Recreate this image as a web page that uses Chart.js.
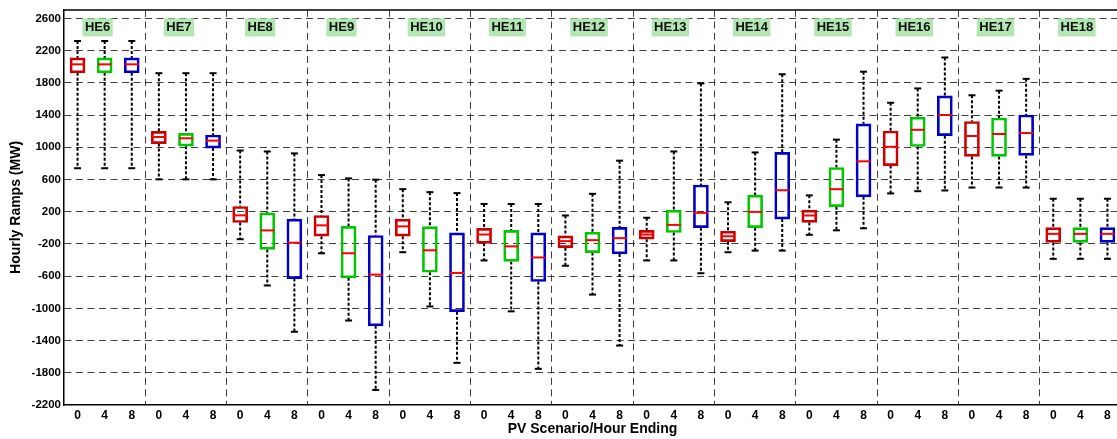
<!DOCTYPE html>
<html>
<head>
<meta charset="utf-8">
<script src="https://cdn.jsdelivr.net/npm/chart.js@4"></script>
<style>
  html, body { margin: 0; padding: 0; background: #fff; overflow: hidden; }
  #wrap { width: 1130px; height: 439px; }
</style>
</head>
<body>
<div id="wrap"><canvas id="ramps" width="1130" height="439"></canvas></div>
<script>
// Группы (час окончания) и сценарии PV
const groups = ['HE6', 'HE7', 'HE8', 'HE9', 'HE10', 'HE11', 'HE12', 'HE13', 'HE14', 'HE15', 'HE16', 'HE17', 'HE18'];
const scenarios = ['0', '4', '8'];
const yTicks = [-2200, -1800, -1400, -1000, -600, -200, 200, 600, 1000, 1400, 1800, 2200, 2600];

// Значения ящиков: по три на группу (0, 4, 8)
const whiskerHigh = [2320, 2320, 2320, 1920, 1920, 1920, 960, 948, 924, 655, 614, 598, 480, 443, 431,
  296, 296, 296, 153, 422, 834, 125, 948, 1793, 317, 936, 1907, 403, 1095, 1939,
  1553, 1731, 2115, 1646, 1703, 1850, 361, 361, 361];
const q3 = [2110, 2110, 2110, 1198, 1173, 1153, 265, 186, 109, 153, 18, -95, 109, 15, -62,
  -6, -31, -62, -99, -55, 6, -31, 219, 532, -43, 406, 936, 219, 749, 1291,
  1202, 1373, 1638, 1320, 1364, 1401, 2, 2, 2];
const median = [2030, 2030, 2030, 1128, 1112, 1083, 155, -32, -185, 31, -316, -581, 18, -279, -560,
  -83, -230, -368, -165, -153, -128, -83, 36, 186, -104, 198, 467, 153, 480, 826,
  1006, 1217, 1401, 1140, 1165, 1177, -75, -75, -75];
const q1 = [1925, 1925, 1925, 1046, 1014, 990, 66, -268, -630, -104, -621, -1217, -104, -552, -1041,
  -193, -417, -667, -246, -307, -324, -141, -58, 2, -172, 2, 109, 67, 263, 385,
  773, 1010, 1144, 887, 887, 899, -181, -181, -181];
const whiskerLow = [740, 740, 740, 602, 602, 602, -141, -716, -1291, -316, -1151, -2013, -303, -976, -1677,
  -405, -1037, -1751, -471, -829, -1462, -405, -405, -564, -303, -283, -283, -87, -31, -6,
  427, 455, 464, 500, 500, 500, -385, -385, -385];

const boxColors = ['rgb(204,0,0)', 'rgb(0,200,0)', 'rgb(0,0,204)'];
const gridColor = 'rgba(0,0,0,0.75)';
const fontFamily = '"Liberation Sans", Arial, sans-serif';

// Собираем точки для наборов данных
const boxData = [], medData = [], capData = [], whiskerData = [];
for (let i = 0; i < median.length; i++) {
  boxData.push({ x: i, y: [q1[i], q3[i]] });
  medData.push({ x: i, y: median[i] });
  capData.push({ x: i, y: whiskerHigh[i] }, { x: i, y: whiskerLow[i] });
  whiskerData.push(
    { x: i, y: whiskerHigh[i] }, { x: i, y: q3[i] }, { x: i, y: null },
    { x: i, y: q1[i] }, { x: i, y: whiskerLow[i] }, { x: i, y: null }
  );
}

// Подписи групп и верхняя рамка
const groupLabels = {
  id: 'groupLabels',
  afterDatasetsDraw(chart) {
    const ctx = chart.ctx;
    const area = chart.chartArea;
    const x = chart.scales.x;
    ctx.save();
    ctx.strokeStyle = '#000';
    ctx.lineWidth = 1.5;
    ctx.beginPath();
    ctx.moveTo(area.left, area.top);
    ctx.lineTo(area.right, area.top);
    ctx.stroke();
    ctx.font = 'bold 13px ' + fontFamily;
    ctx.textAlign = 'left';
    ctx.textBaseline = 'middle';
    groups.forEach((g, k) => {
      const left = x.getPixelForValue(k * 3 - 0.5 + 0.68);
      const w = ctx.measureText(g).width + 5;
      const cy = area.top + 17.5;
      ctx.fillStyle = 'rgb(180,230,180)';
      ctx.fillRect(left, cy - 9, w, 18);
      ctx.fillStyle = '#111';
      ctx.fillText(g, left + 2.5, cy + 0.5);
    });
    ctx.restore();
  }
};

const config = {
  data: {
    datasets: [
      {
        type: 'line',
        data: whiskerData,
        borderColor: '#000',
        borderWidth: 2,
        borderDash: [3, 2],
        pointRadius: 0,
        spanGaps: false,
        order: 3
      },
      {
        type: 'bar',
        data: boxData,
        backgroundColor: 'rgba(0,0,0,0)',
        borderColor: boxData.map((d, i) => boxColors[i % 3]),
        borderWidth: 2,
        borderSkipped: false,
        barThickness: 15,
        order: 2
      },
      {
        type: 'line',
        data: capData,
        showLine: false,
        pointStyle: 'line',
        pointRadius: 3.5,
        pointBorderWidth: 2,
        pointBorderColor: '#000',
        order: 1
      },
      {
        type: 'line',
        data: medData,
        showLine: false,
        pointStyle: 'line',
        pointRadius: 7,
        pointBorderWidth: 2,
        pointBorderColor: 'rgb(255,0,0)',
        order: 0
      }
    ]
  },
  options: {
    responsive: false,
    animation: false,
    events: [],
    layout: { padding: { top: 4, right: 4, left: 0, bottom: 0 } },
    plugins: { legend: { display: false }, tooltip: { enabled: false } },
    scales: {
      x: {
        type: 'linear',
        offset: false,
        min: -0.5,
        max: 38.5,
        afterBuildTicks(scale) {
          const t = [];
          for (let i = 0; i < 39; i++) t.push(i);
          for (let k = 1; k < groups.length; k++) t.push(k * 3 - 0.5);
          t.sort((a, b) => a - b);
          scale.ticks = t.map(v => ({ value: v }));
        },
        afterFit(scale) { scale.height = 34; },
        ticks: {
          autoSkip: false,
          maxRotation: 0,
          padding: 3,
          color: '#000',
          font: { family: fontFamily, size: 12, weight: 'bold' },
          callback: (v) => Number.isInteger(v) ? scenarios[v % 3] : ''
        },
        grid: {
          offset: false,
          drawTicks: false,
          color: (c) => (c.tick && !Number.isInteger(c.tick.value)) ? gridColor : 'rgba(0,0,0,0)',
          lineWidth: 1
        },
        border: { color: '#000', width: 1.5, dash: [7, 4.5] },
        title: {
          display: true,
          text: 'PV Scenario/Hour Ending',
          color: '#000',
          padding: { top: 0, bottom: 1 },
          font: { family: fontFamily, size: 14, weight: 'bold' }
        }
      },
      y: {
        min: -2200,
        max: 2706,
        afterBuildTicks(scale) { scale.ticks = yTicks.map(v => ({ value: v })); },
        afterFit(scale) { scale.width = 64; },
        ticks: {
          padding: 3,
          color: '#000',
          font: { family: fontFamily, size: 11.5, weight: 'bold' },
          callback: (v) => String(v)
        },
        grid: {
          drawTicks: false,
          color: (c) => (c.tick && c.tick.value > -2200) ? gridColor : 'rgba(0,0,0,0)',
          lineWidth: 1
        },
        border: { color: '#000', width: 1.5, dash: [7, 4.5] },
        title: {
          display: true,
          text: 'Hourly Ramps (MW)',
          color: '#000',
          padding: { top: 8, bottom: 0 },
          font: { family: fontFamily, size: 14, weight: 'bold' }
        }
      }
    }
  },
  plugins: [groupLabels]
};

new Chart(document.getElementById('ramps'), config);
</script>
</body>
</html>
